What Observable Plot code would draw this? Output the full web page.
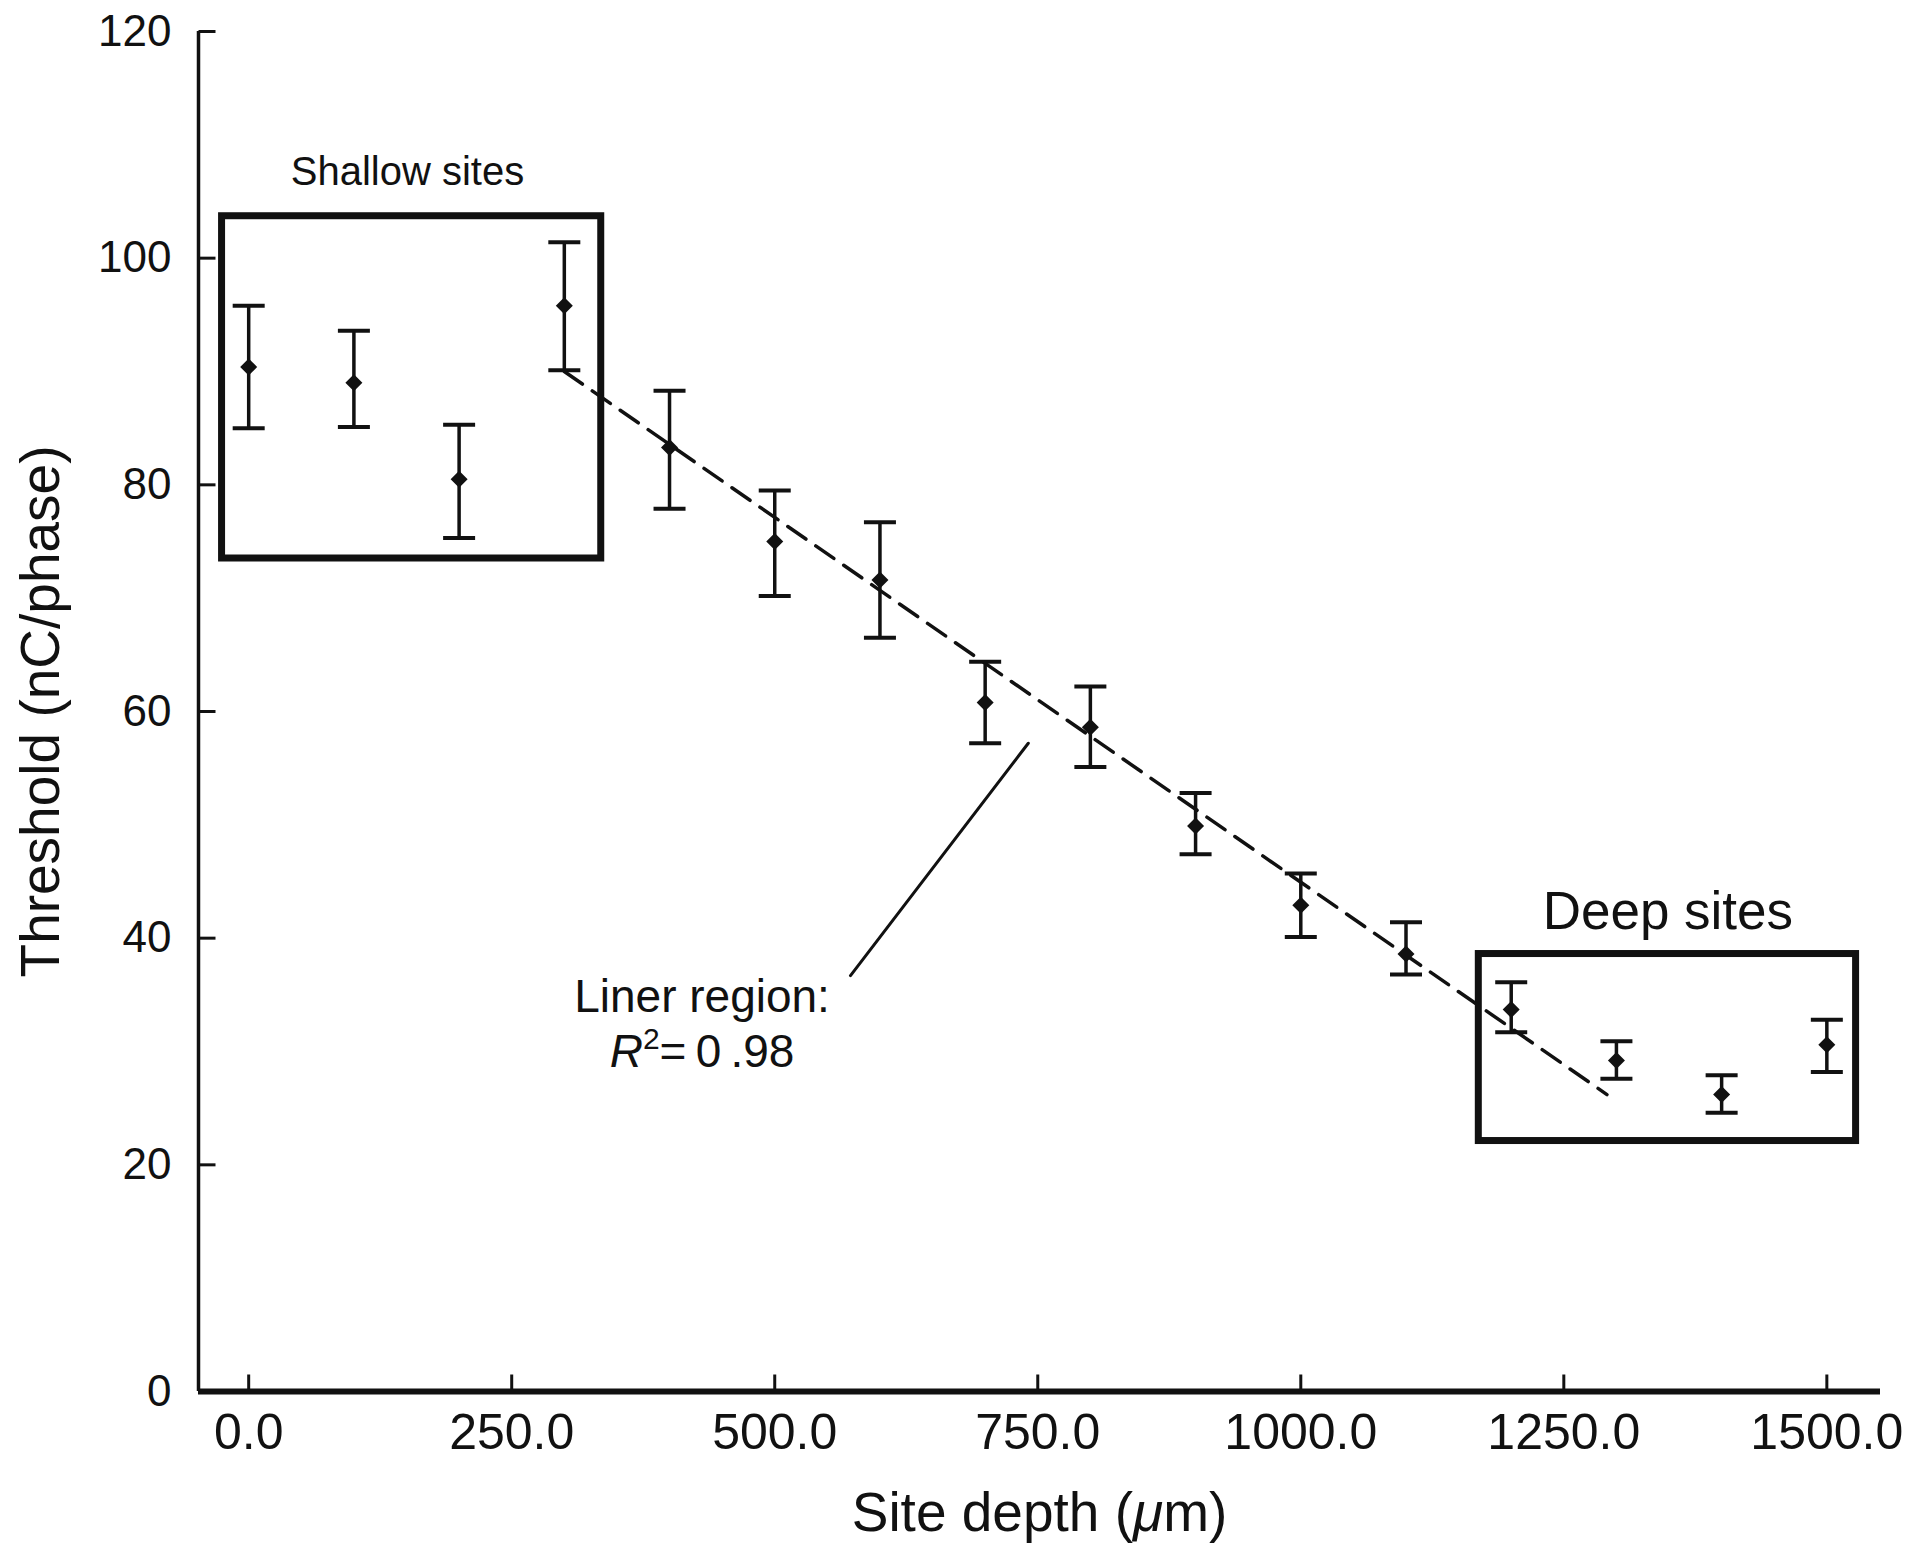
<!DOCTYPE html>
<html>
<head>
<meta charset="utf-8">
<script src="https://cdn.jsdelivr.net/npm/d3@7"></script>
<script src="https://cdn.jsdelivr.net/npm/@observablehq/plot@0.6"></script>
<style>
  html, body { margin: 0; padding: 0; background: #fff; }
</style>
</head>
<body>
<div id="chart"></div>
<script>
// ---- data ----
const depth     = [0, 100, 200, 300, 400, 500, 600, 700, 800, 900, 1000, 1100, 1200, 1300, 1400, 1500];
const threshold = [90.4, 89.0, 80.5, 95.8, 83.3, 75.0, 71.6, 60.8, 58.6, 49.9, 42.9, 38.6, 33.7, 29.2, 26.2, 30.6];
const errHigh   = [95.8, 93.6, 85.3, 101.4, 88.3, 79.5, 76.7, 64.4, 62.2, 52.8, 45.7, 41.4, 36.1, 30.9, 27.9, 32.8];
const errLow    = [85.0, 85.1, 75.3, 90.1, 77.9, 70.2, 66.5, 57.2, 55.1, 47.4, 40.1, 36.8, 31.7, 27.6, 24.6, 28.2];

// linear fit over the middle region
const fitDepth = [300, 1291];
const fitValue = [90.0, 26.2];

// region boxes
const boxLabels = ["Shallow sites", "Deep sites"];
const boxX1 = [-25.3, 1169.2];
const boxX2 = [335.1, 1527.8];
const boxY1 = [73.5, 22.1];
const boxY2 = [103.7, 38.6];
const boxLabelX = [150.9, 1348.9];
const boxLabelY = [106.5, 40.8];

// annotation
const noteLines = ["Liner region:", "R2=0.98"];
const noteX = [430.9, 430.9];
const noteY = [33.5, 28.6];
const leaderX = [572, 741];
const leaderY = [36.7, 57.2];

// axes
const xTicks = [0, 250, 500, 750, 1000, 1250, 1500];
const yTicks = [0, 20, 40, 60, 80, 100, 120];
const xDomain = [-47.7, 1551];
const yDomain = [0, 120];
const xTitle = "Site depth (\u03bcm)";
const yTitle = "Threshold (nC/phase)";

// ---- tables built from the arrays ----
const points = depth.map((d, i) => ({depth: d, value: threshold[i], lo: errLow[i], hi: errHigh[i]}));
const fit = fitDepth.map((d, i) => ({depth: d, value: fitValue[i]}));
const boxes = boxLabels.map((l, i) => ({label: l, x1: boxX1[i], x2: boxX2[i], y1: boxY1[i], y2: boxY2[i], lx: boxLabelX[i], ly: boxLabelY[i]}));
const notes = noteLines.map((t, i) => ({text: t, x: noteX[i], y: noteY[i]}));
const leader = leaderX.map((x, i) => ({x, y: leaderY[i]}));

// custom shapes
const capShape = {draw(ctx, l) { ctx.moveTo(-l / 2, 0); ctx.lineTo(l / 2, 0); }};
const tickShape = {draw(ctx, l) { ctx.moveTo(0, 0); ctx.lineTo(0, -l); }};
const diamond = {draw(ctx, size) {
  const r = Math.sqrt(size / Math.PI);
  ctx.moveTo(0, -r); ctx.lineTo(r, 0); ctx.lineTo(0, r); ctx.lineTo(-r, 0); ctx.closePath();
}};

const ink = "#111";
const font = "'Liberation Sans', Arial, Helvetica, sans-serif";

const chart = Plot.plot({
  width: 1920,
  height: 1556,
  marginLeft: 198,
  marginRight: 40,
  marginTop: 31,
  marginBottom: 165,
  style: {fontFamily: font, color: ink, background: "#fff"},
  x: {domain: xDomain},
  y: {domain: yDomain},
  marks: [
    // axes labels
    Plot.axisX({ticks: xTicks, tickSize: 0, tickPadding: 22, tickFormat: d => d.toFixed(1), fontSize: 50, label: null}),
    Plot.axisY({ticks: yTicks, tickSize: 0, tickPadding: 27, tickFormat: d => String(d), fontSize: 44, label: null}),
    // inward ticks
    Plot.vector(xTicks, {x: d => d, y: yDomain[0], length: 17, rotate: 0, anchor: "start", shape: tickShape, stroke: ink, strokeWidth: 3, strokeLinecap: "butt"}),
    Plot.vector(yTicks, {x: xDomain[0], y: d => d, length: 17, rotate: 90, anchor: "start", shape: tickShape, stroke: ink, strokeWidth: 3, strokeLinecap: "butt"}),
    // axis lines
    Plot.ruleX([xDomain[0]], {y1: yDomain[0], y2: yDomain[1], stroke: ink, strokeWidth: 3.5}),
    Plot.ruleY([yDomain[0]], {stroke: ink, strokeWidth: 6}),
    // axis titles
    Plot.text([xTitle], {frameAnchor: "bottom", dy: 139, lineAnchor: "bottom", textAnchor: "middle", fontSize: 55, fill: ink}),
    Plot.text([yTitle], {frameAnchor: "left", dx: -140, rotate: -90, lineAnchor: "bottom", textAnchor: "middle", fontSize: 55, fill: ink}),
    // region boxes and their labels
    Plot.rect(boxes, {x1: "x1", x2: "x2", y1: "y1", y2: "y2", fill: "none", stroke: ink, strokeWidth: 7}),
    Plot.text(boxes, {x: "lx", y: "ly", text: "label", fontSize: (d) => d.label === "Deep sites" ? 53 : 40, lineAnchor: "bottom", textAnchor: "middle", fill: ink}),
    // fit line
    Plot.line(fit, {x: "depth", y: "value", stroke: ink, strokeWidth: 3.5, strokeDasharray: "22,12"}),
    // error bars
    Plot.ruleX(points, {x: "depth", y1: "lo", y2: "hi", stroke: ink, strokeWidth: 3.5}),
    Plot.vector(points, {x: "depth", y: "hi", length: 32, rotate: 0, anchor: "start", shape: capShape, stroke: ink, strokeWidth: 4, strokeLinecap: "butt"}),
    Plot.vector(points, {x: "depth", y: "lo", length: 32, rotate: 0, anchor: "start", shape: capShape, stroke: ink, strokeWidth: 4, strokeLinecap: "butt"}),
    // means
    Plot.dot(points, {x: "depth", y: "value", symbol: diamond, r: 8.5, fill: ink, stroke: "none"}),
    // annotation
    Plot.line(leader, {x: "x", y: "y", stroke: ink, strokeWidth: 3}),
    Plot.text(notes, {x: "x", y: "y", text: "text", fontSize: 46, lineAnchor: "bottom", textAnchor: "middle", fill: ink})
  ]
});

// fixed-up rich text (italic symbols, superscript)
chart.querySelectorAll("text").forEach(t => {
  if (t.textContent === xTitle) {
    t.innerHTML = "";
    const parts = [["Site depth (", null], ["\u03bc", "italic"], ["m)", null]];
    for (const [s, st] of parts) {
      const sp = document.createElementNS("http://www.w3.org/2000/svg", "tspan");
      sp.textContent = s;
      if (st) sp.setAttribute("font-style", st);
      t.appendChild(sp);
    }
  } else if (t.textContent === "R2=0.98") {
    t.innerHTML = "";
    const mk = (s, attrs) => {
      const sp = document.createElementNS("http://www.w3.org/2000/svg", "tspan");
      sp.textContent = s;
      for (const k in attrs) sp.setAttribute(k, attrs[k]);
      t.appendChild(sp);
    };
    mk("R", {"font-style": "italic"});
    mk("2", {"font-size": "30", "dy": "-18"});
    mk("=\u20090\u2009.98", {"dy": "18"});
  }
});

document.getElementById("chart").appendChild(chart);
</script>
</body>
</html>
